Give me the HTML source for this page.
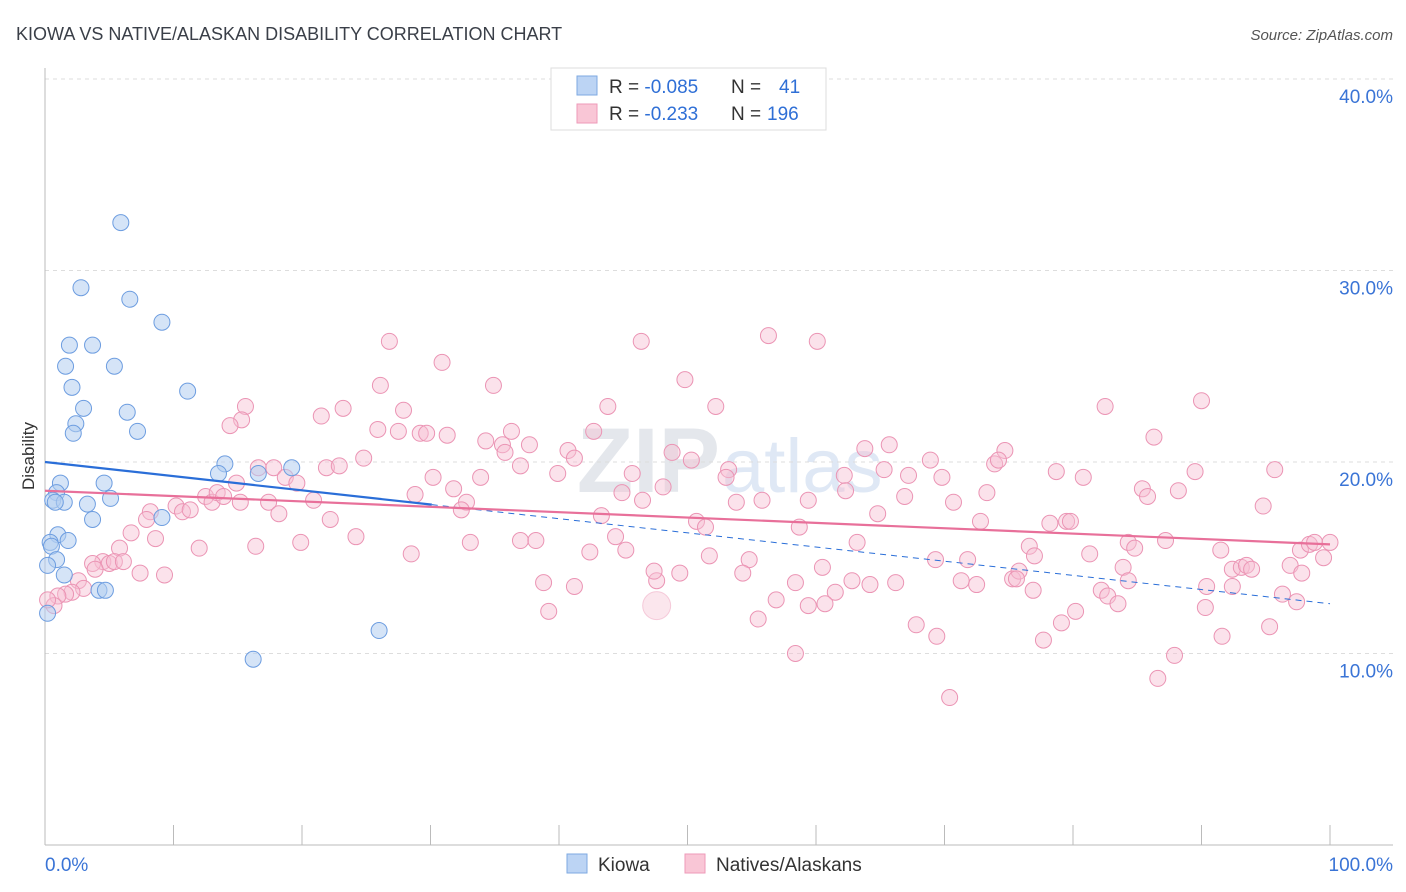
<!DOCTYPE html>
<html><head><meta charset="utf-8"><style>
body{margin:0;background:#fff;font-family:"Liberation Sans",sans-serif;}
svg{display:block}
</style></head><body>
<svg width="1406" height="892" id="chart">
<text x="16" y="40" font-size="18" fill="#3a3f48">KIOWA VS NATIVE/ALASKAN DISABILITY CORRELATION CHART</text>
<text x="1393" y="40" font-size="15" font-style="italic" fill="#555" text-anchor="end">Source: ZipAtlas.com</text>
<text x="720" y="492" font-size="92" font-weight="bold" fill="#e4e7ec" text-anchor="end">ZIP</text>
<text x="722" y="492" font-size="76" fill="#dfe8f5">atlas</text>
<g id="grid"></g>
<g id="axes"></g>
<g id="marks"></g>
<text x="34" y="456" font-size="17" fill="#333" transform="rotate(-90 34 456)" text-anchor="middle">Disability</text>
<g>
<rect x="551" y="68" width="275" height="62" fill="#fff" stroke="#ddd"/>
<rect x="577" y="76" width="20" height="19" fill="#bcd4f4" stroke="#7ea9e2"/>
<rect x="577" y="104" width="20" height="19" fill="#f9c6d6" stroke="#ee9ab8"/>
<text x="609" y="93" font-size="19" fill="#333">R = <tspan fill="#2f6fd6">-0.085</tspan><tspan x="731">N = </tspan><tspan x="779" fill="#2f6fd6">41</tspan></text>
<text x="609" y="120" font-size="19" fill="#333">R = <tspan fill="#2f6fd6"> -0.233</tspan><tspan x="731">N = </tspan><tspan x="767" fill="#2f6fd6">196</tspan></text>
</g>
<g>
<rect x="567" y="854" width="20" height="19" fill="#bcd4f4" stroke="#7ea9e2"/>
<text x="598" y="871" font-size="19" fill="#333">Kiowa</text>
<rect x="685" y="854" width="20" height="19" fill="#f9c6d6" stroke="#ee9ab8"/>
<text x="716" y="871" font-size="19" fill="#333">Natives/Alaskans</text>
</g>
</svg>
<script>
const yTicks=[10,20,30,40];
const yTickLabels=["10.0%","20.0%","30.0%","40.0%"];
const xTickLabels=["0.0%","100.0%"];
const kiowaX=[5.9,2.8,6.6,9.1,1.9,3.7,1.6,5.4,2.1,11.1,3.0,6.4,2.4,7.2,2.2,14.0,13.5,19.2,16.6,1.2,4.6,0.9,0.6,5.1,1.5,3.3,0.8,9.1,3.7,1.0,1.8,0.4,0.5,0.9,0.2,1.5,4.2,4.7,26.0,16.2,0.2];
const kiowaY=[32.5,29.1,28.5,27.3,26.1,26.1,25.0,25.0,23.9,23.7,22.8,22.6,22.0,21.6,21.5,19.9,19.4,19.7,19.4,18.9,18.9,18.4,18.0,18.1,17.9,17.8,17.9,17.1,17.0,16.2,15.9,15.8,15.6,14.9,14.6,14.1,13.3,13.3,11.2,9.7,12.1];
const nativesX=[26.8,46.4,56.3,60.1,30.9,49.8,26.1,34.9,15.6,23.2,27.9,52.2,43.8,82.5,90.0,21.5,15.3,14.4,25.9,27.5,29.2,31.3,36.3,42.7,29.7,86.3,34.3,35.6,37.7,35.8,40.7,48.8,63.8,65.7,74.7,41.2,50.3,68.9,73.9,74.2,78.7,80.8,89.5,95.7,16.6,17.8,21.9,22.9,24.8,30.2,33.9,37.0,39.9,45.7,53.2,53.0,62.2,65.3,67.2,69.8,73.3,85.4,85.8,88.2,14.9,18.7,19.6,28.8,31.8,32.8,32.4,44.9,46.5,48.1,53.8,55.8,59.4,62.3,66.9,70.7,94.8,12.5,13.0,13.4,13.9,15.2,10.2,10.7,11.3,17.4,18.2,20.9,8.2,7.9,22.2,43.3,50.7,51.4,58.7,64.8,72.8,78.2,79.5,79.8,6.7,8.6,24.2,33.1,37.0,38.2,42.4,45.2,44.4,51.7,54.8,63.2,69.3,71.8,76.6,77.0,81.3,84.3,84.8,87.2,91.5,97.7,98.4,98.8,100,99.5,5.8,4.5,5.0,5.4,6.1,3.7,3.9,12.0,16.4,19.9,28.5,7.4,9.3,2.6,3.0,2.1,1.6,1.0,0.7,0.2,38.8,41.2,47.6,47.4,49.4,54.3,58.4,60.5,62.8,64.2,66.2,75.3,75.8,71.3,72.5,76.9,82.2,83.9,84.3,92.4,93.1,93.5,93.9,96.9,97.8,92.4,90.4,96.3,97.4,82.7,83.5,61.5,59.4,56.9,60.7,39.2,55.5,67.8,69.4,80.2,90.3,95.3,77.7,91.6,58.4,87.9,70.4,86.6,79.1,75.6];
const nativesY=[26.3,26.3,26.6,26.3,25.2,24.3,24.0,24.0,22.9,22.8,22.7,22.9,22.9,22.9,23.2,22.4,22.2,21.9,21.7,21.6,21.5,21.4,21.6,21.6,21.5,21.3,21.1,20.9,20.9,20.5,20.6,20.5,20.7,20.9,20.6,20.2,20.1,20.1,19.9,20.1,19.5,19.2,19.5,19.6,19.7,19.7,19.7,19.8,20.2,19.2,19.2,19.8,19.4,19.4,19.6,19.2,19.3,19.6,19.3,19.2,18.4,18.6,18.2,18.5,18.9,19.2,18.9,18.3,18.6,17.9,17.5,18.4,18.0,18.7,17.9,18.0,18.0,18.5,18.2,17.9,17.7,18.2,17.9,18.4,18.2,17.9,17.7,17.4,17.5,17.9,17.3,18.0,17.4,17.0,17.0,17.2,16.9,16.6,16.6,17.3,16.9,16.8,16.9,16.9,16.3,16.0,16.1,15.8,15.9,15.9,15.3,15.4,16.1,15.1,14.9,15.8,14.9,14.9,15.6,15.1,15.2,15.8,15.5,15.9,15.4,15.4,15.7,15.8,15.8,15.0,15.5,14.8,14.7,14.8,14.8,14.7,14.4,15.5,15.6,15.8,15.2,14.2,14.1,13.8,13.4,13.2,13.1,13.0,12.5,12.8,13.7,13.5,13.8,14.3,14.2,14.2,13.7,14.5,13.8,13.6,13.7,13.9,14.3,13.8,13.6,13.3,13.3,14.5,13.8,14.4,14.5,14.6,14.4,14.6,14.2,13.5,13.5,13.1,12.7,13.0,12.6,13.2,12.5,12.8,12.6,12.2,11.8,11.5,10.9,12.2,12.4,11.4,10.7,10.9,10.0,9.9,7.7,8.7,11.6,13.9];
const kiowaTrend=[20.0,12.6];
const nativesTrend=[18.5,15.7];
const NS="http://www.w3.org/2000/svg";
const X0=45,X1=1330,Y0=845,YPER=19.15;
function sx(v){return X0+(X1-X0)*v/100;}
function sy(v){return Y0-v*YPER;}
function mk(tag,attrs,parent){const e=document.createElementNS(NS,tag);for(const k in attrs)e.setAttribute(k,attrs[k]);parent.appendChild(e);return e;}
const grid=document.getElementById('grid'),axes=document.getElementById('axes'),marks=document.getElementById('marks');
yTicks.forEach((t,i)=>{
 const l=mk('line',{x1:X0,x2:1393,y1:sy(t),y2:sy(t),stroke:'#ddd','stroke-dasharray':'4,4'},grid);
 
 
 const tx=mk('text',{x:1393,y:sy(t)+24,'font-size':19,fill:'#3a74d6','text-anchor':'end'},grid);
 tx.textContent=yTickLabels[i];
 
 
});
const ya=mk('line',{x1:X0,x2:X0,y1:68,y2:Y0,stroke:'#bbb'},axes);


const xa=mk('line',{x1:X0,x2:1393,y1:Y0,y2:Y0,stroke:'#bbb'},axes);


for(let i=0;i<=10;i++){
 const tk=mk('line',{x1:sx(i*10),x2:sx(i*10),y1:825,y2:Y0,stroke:'#bbb'},axes);
 
 
}
[[0,'start'],[100,'end']].forEach((p,i)=>{
 const tx=mk('text',{x:i?1393:X0,y:871,'font-size':19,fill:'#3a74d6','text-anchor':i?'end':'start'},axes);
 tx.textContent=xTickLabels[i];
 
 
});
// big faint circle near origin
const bc=mk('circle',{cx:sx(nativesX[nativesX.length-48]||0.2),cy:sy(12.5),r:14,fill:'#f4b7cc','fill-opacity':0.35,stroke:'#eea2bd','stroke-opacity':0.5},marks);


nativesX.forEach((x,i)=>{
 const c=mk('circle',{cx:sx(x),cy:sy(nativesY[i]),r:8,fill:'#f7bfd2','fill-opacity':0.45,stroke:'#eb94b4','stroke-width':1},marks);
 
 
});
kiowaX.forEach((x,i)=>{
 const c=mk('circle',{cx:sx(x),cy:sy(kiowaY[i]),r:8,fill:'#b2cdf1','fill-opacity':0.55,stroke:'#6d9de0','stroke-width':1},marks);
 
 
});
const kMid=kiowaTrend[0]+(kiowaTrend[1]-kiowaTrend[0])*0.301;
const kl=mk('line',{x1:sx(0),y1:sy(kiowaTrend[0]),x2:sx(30.1),y2:sy(kMid),stroke:'#2a6ed8','stroke-width':2.2},marks);


const kd=mk('line',{x1:sx(30.1),y1:sy(kMid),x2:sx(100),y2:sy(kiowaTrend[1]),stroke:'#2a6ed8','stroke-width':1,'stroke-dasharray':'6,5'},marks);


const nl=mk('line',{x1:sx(0),y1:sy(nativesTrend[0]),x2:sx(100),y2:sy(nativesTrend[1]),stroke:'#e8709a','stroke-width':2.2},marks);


</script>
</body></html>
